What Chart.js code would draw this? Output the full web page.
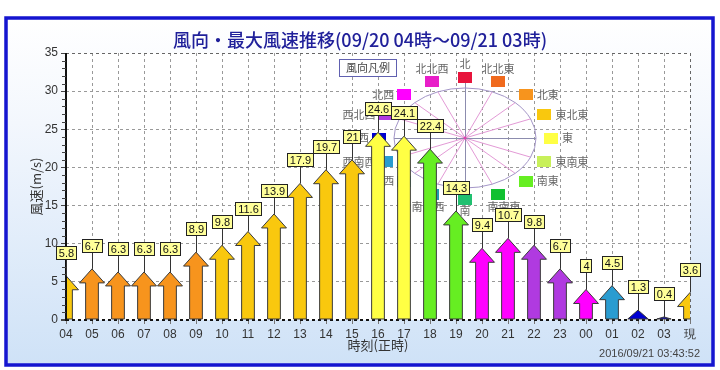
<!DOCTYPE html>
<html><head><meta charset="utf-8">
<script src="https://cdn.jsdelivr.net/npm/chart.js@4.4.1/dist/chart.umd.min.js"></script>
<style>html,body{margin:0;padding:0;background:#fff}#wrap{width:720px;height:370px}</style>
</head><body><div id="wrap"><canvas id="c" width="720" height="370"></canvas></div>
<script>
const hours = ['04','05','06','07','08','09','10','11','12','13','14','15','16','17','18','19','20','21','22','23','00','01','02','03','現'];
const maxSpeed = [5.8,6.7,6.3,6.3,6.3,8.9,9.8,11.6,13.9,17.9,19.7,21,24.6,24.1,22.4,14.3,9.4,10.7,9.8,6.7,4,4.5,1.3,0.4,3.6];
const windDir = ['東北東','北東','北東','北東','北東','北東','東北東','東北東','東北東','東北東','東北東','東北東','東','東','南東','南東','北西','北西','西北西','西北西','北西','西南西','西','西','東北東'];
const dirNames = ['北','北北東','北東','東北東','東','東南東','南東','南南東','南','南南西','南西','西南西','西','西北西','北西','北北西'];
const dirColors = ['#e8143c','#f06a1e','#f7941d','#f9c80e','#ffff44','#c8f05a','#66ee22','#10c030','#20c070','#2098b0','#30c4c8','#2a9cd0','#0000d0','#b03ae0','#ff00ff','#e81ec8'];
const yTickValues = [0,5,10,15,20,25,30,35];
const titleText = '風向・最大風速推移(09/20 04時～09/21 03時)';
const xTitle = '時刻(正時)';
const yTitle = '風速(m/s)';
const legendTitle = '風向凡例';
const stampText = '2016/09/21 03:43:52';

const JP = '"Noto Sans CJK JP", "Noto Sans", sans-serif';
const LAT = '"Liberation Sans", Arial, sans-serif';

function colorOf(i){ return dirColors[dirNames.indexOf(windDir[i])]; }

function drawCompass(chart){
  const {ctx, chartArea:a} = chart;
  const cx = a.left + 399, cy = a.top + 85;
  ctx.save();
  ctx.lineWidth = 1;
  ctx.strokeStyle = '#e39ad6';
  for (let i=0;i<16;i++){
    if (i%4===0) continue;
    const t = i*Math.PI/8;
    ctx.beginPath(); ctx.moveTo(cx,cy); ctx.lineTo(cx+71*Math.sin(t), cy-50*Math.cos(t)); ctx.stroke();
  }
  ctx.strokeStyle = '#8c8cae';
  ctx.beginPath(); ctx.moveTo(cx+0.5, cy-60); ctx.lineTo(cx+0.5, cy+57);
  ctx.moveTo(cx-71, cy+0.5); ctx.lineTo(cx+71, cy+0.5); ctx.stroke();
  ctx.strokeStyle = '#a496c8';
  ctx.beginPath(); ctx.ellipse(cx, cy, 71, 50, 0, 0, Math.PI*2); ctx.stroke();
  ctx.fillStyle = '#e040b0';
  ctx.beginPath(); ctx.arc(cx, cy, 1.5, 0, Math.PI*2); ctx.fill();
  ctx.fillStyle = '#fff'; ctx.fillRect(cx-126, cy-79, 58, 18);
  ctx.strokeStyle = '#6060b0'; ctx.strokeRect(cx-125.5, cy-78.5, 57, 17);
  ctx.fillStyle = '#444'; ctx.font = '11px ' + JP; ctx.textAlign='center'; ctx.textBaseline='middle';
  ctx.fillText(legendTitle, cx-97, cy-70);
  ctx.font = '11px ' + JP;
  for (let i=0;i<16;i++){
    const t = i*Math.PI/8;
    const sx = cx + 86*Math.sin(t), sy = cy - 61*Math.cos(t);
    ctx.fillStyle = dirColors[i];
    ctx.fillRect(Math.round(sx-7), Math.round(sy-5.5), 14, 11);
    ctx.fillStyle = '#666';
    if (i===15 || i===0 || i===1){ ctx.textAlign='center'; ctx.fillText(dirNames[i], sx, sy-13); }
    else if (i>=2 && i<=6){ ctx.textAlign='left'; ctx.fillText(dirNames[i], sx+11, sy); }
    else if (i>=7 && i<=9){ ctx.textAlign='center'; ctx.fillText(dirNames[i], sx+(i===7?6:(i===9?-4:0)), sy+12); }
    else { ctx.textAlign='right'; ctx.fillText(dirNames[i], sx-10, sy); }
  }
  ctx.restore();
}

function arrowPath(ctx, x, yTip, yBase, shaftW, headW, headH){
  const h = yBase - yTip;
  ctx.beginPath();
  if (h <= headH){
    const w = headW*(0.5+0.5*h/headH);
    ctx.moveTo(x-w/2, yBase); ctx.lineTo(x, yTip); ctx.lineTo(x+w/2, yBase);
  } else {
    ctx.moveTo(x-shaftW/2, yBase); ctx.lineTo(x-shaftW/2, yTip+headH);
    ctx.lineTo(x-headW/2, yTip+headH); ctx.lineTo(x, yTip);
    ctx.lineTo(x+headW/2, yTip+headH); ctx.lineTo(x+shaftW/2, yTip+headH);
    ctx.lineTo(x+shaftW/2, yBase);
  }
  ctx.closePath();
}

const deco = {
  id: 'deco',
  beforeDraw(chart){
    const {ctx, chartArea:a} = chart;
    ctx.save();
    ctx.fillStyle = '#fff'; ctx.fillRect(0,0,chart.width,chart.height);
    const g = ctx.createLinearGradient(0, 20, 0, 364);
    g.addColorStop(0, '#ffffff'); g.addColorStop(0.3, '#f3f7fd'); g.addColorStop(1, '#cfe2f7');
    ctx.fillStyle = g; ctx.fillRect(6, 18, 707, 347);
    ctx.fillStyle = '#fff'; ctx.fillRect(a.left, a.top, a.right-a.left, a.bottom-a.top);
    ctx.restore();
  },
  beforeDatasetsDraw(chart){ drawCompass(chart); },
  afterDatasetsDraw(chart){
    const {ctx, chartArea:a, scales} = chart;
    const meta = chart.getDatasetMeta(0);
    const step = scales.x.getPixelForValue(1) - scales.x.getPixelForValue(0);
    const shaftW = step*0.49, headW = step*0.96, headH = 14;
    ctx.save();
    ctx.beginPath(); ctx.rect(a.left, a.top, a.right-a.left, a.bottom-a.top); ctx.clip();
    meta.data.forEach((el, i) => {
      arrowPath(ctx, el.x, el.y, el.base, shaftW, headW, headH);
      ctx.fillStyle = colorOf(i); ctx.fill();
      ctx.strokeStyle = '#3a3a3a'; ctx.lineWidth = 1; ctx.stroke();
    });
    ctx.restore();
    ctx.save();
    ctx.strokeStyle = '#111'; ctx.lineWidth = 2;
    ctx.beginPath(); ctx.moveTo(a.left, a.top); ctx.lineTo(a.left, a.bottom+1); ctx.stroke();
    ctx.lineWidth = 1; ctx.strokeStyle = '#444';
    for (let v=1; v<35; v++){
      if (v%5===0) continue;
      const y = Math.round(scales.y.getPixelForValue(v))+0.5;
      ctx.beginPath(); ctx.moveTo(a.left-4, y); ctx.lineTo(a.left, y); ctx.stroke();
    }
    ctx.font = '11px ' + LAT; ctx.textAlign='center'; ctx.textBaseline='middle';
    meta.data.forEach((el, i) => {
      const txt = String(maxSpeed[i]);
      const tw = ctx.measureText(txt).width;
      const bw = Math.round(tw+6), bh = 14;
      const x = Math.round(el.x), cyb = Math.round(el.y - 23);
      ctx.strokeStyle = '#333'; ctx.lineWidth = 1;
      ctx.beginPath(); ctx.moveTo(x+0.5, cyb); ctx.lineTo(x+0.5, el.y); ctx.stroke();
      const bx = Math.round(x - bw/2), by = cyb - bh/2;
      ctx.fillStyle = '#ffff99'; ctx.fillRect(bx, by, bw, bh);
      ctx.strokeStyle = '#222'; ctx.strokeRect(bx+0.5, by+0.5, bw-1, bh-1);
      ctx.fillStyle = '#111'; ctx.fillText(txt, x+0.5, cyb+1);
    });
    ctx.restore();
  },
  afterDraw(chart){
    const {ctx, chartArea:a} = chart;
    ctx.save();
    ctx.strokeStyle = '#1515d0'; ctx.lineWidth = 3.5;
    ctx.strokeRect(6, 18, 707, 347);
    ctx.fillStyle = '#20209a'; ctx.font = '500 18px ' + JP; ctx.textAlign='center'; ctx.textBaseline='middle';
    ctx.fillText(titleText, 360, 40);
    ctx.fillStyle = '#333'; ctx.font = '13px ' + JP;
    ctx.fillText(xTitle, (a.left+a.right)/2, 345);
    ctx.save(); ctx.translate(36, (a.top+a.bottom)/2); ctx.rotate(-Math.PI/2);
    ctx.fillText(yTitle, 0, 0); ctx.restore();
    ctx.font = '11px ' + LAT; ctx.textAlign='right'; ctx.fillStyle='#444';
    ctx.fillText(stampText, 700, 354);
    ctx.restore();
  }
};

new Chart(document.getElementById('c'), {
  type: 'bar',
  data: { labels: hours, datasets: [{ data: maxSpeed, backgroundColor: 'rgba(0,0,0,0)', borderWidth: 0 }] },
  options: {
    responsive: false, animation: false, devicePixelRatio: 1,
    layout: { padding: { top: 53, right: 30, bottom: 0, left: 0 } },
    plugins: { legend: { display: false }, tooltip: { enabled: false }, title: { display: false } },
    scales: {
      x: {
        offset: false,
        grid: { offset: false, color: c => c.index === 0 ? 'rgba(0,0,0,0)' : (c.index === hours.length-1 ? '#666' : '#999'),
                lineWidth: 1, tickLength: 4, tickColor: '#777' },
        border: { display: false, dash: [3,3] },
        ticks: { color: '#333', font: { family: LAT, size: 12 }, padding: 3, maxRotation: 0, autoSkip: false },
        afterFit(s){ s.height = 50; }
      },
      y: {
        min: 0, max: 35,
        afterBuildTicks(s){ s.ticks = yTickValues.map(v => ({ value: v })); },
        grid: { color: c => c.tick && c.tick.value === 0 ? '#111' : (c.tick && c.tick.value === 35 ? '#666' : '#999'),
                lineWidth: c => c.tick && c.tick.value === 0 ? 2 : 1, tickLength: 5, tickColor: '#444' },
        border: { display: false, dash: [3,3] },
        ticks: { color: '#333', font: { family: LAT, size: 12 }, padding: 3 },
        afterFit(s){ s.width = 66; }
      }
    }
  },
  plugins: [deco]
});
</script>
</body></html>
